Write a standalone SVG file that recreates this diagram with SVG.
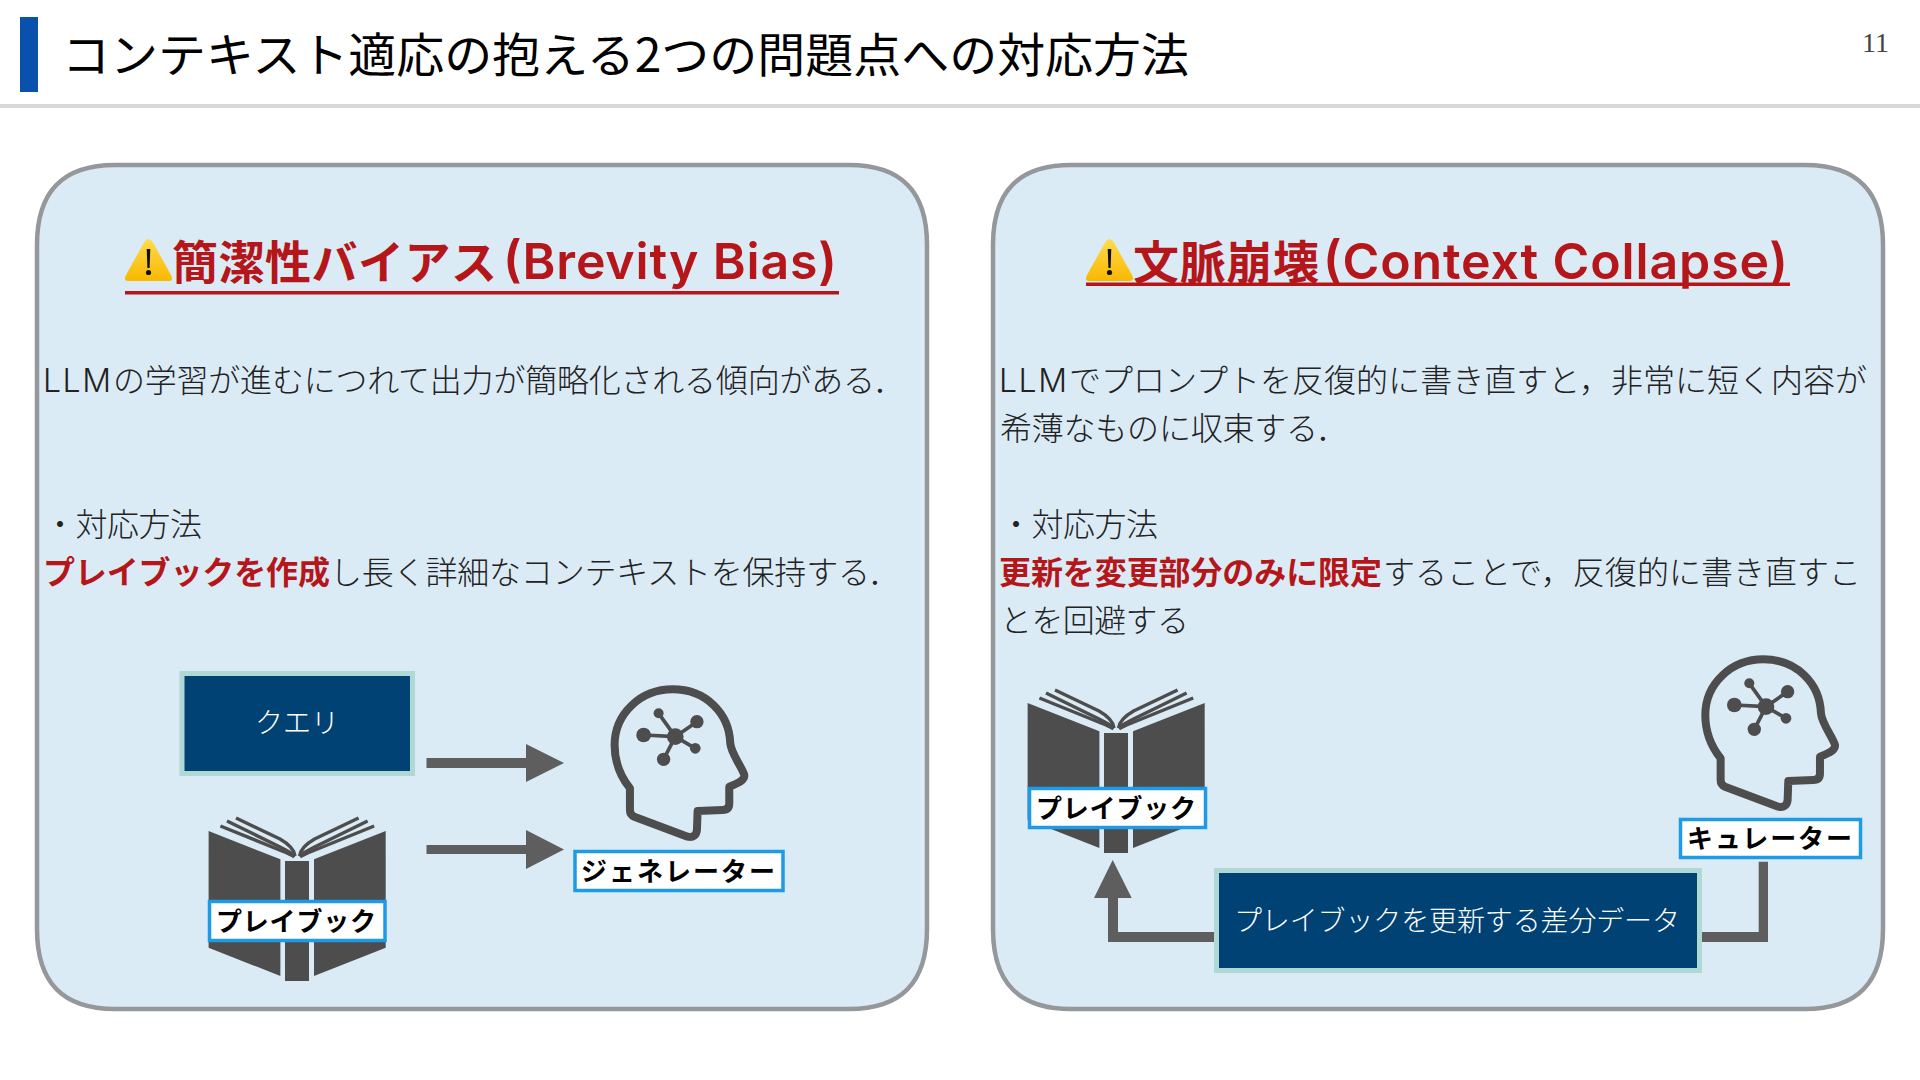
<svg xmlns="http://www.w3.org/2000/svg" width="1920" height="1080" viewBox="0 0 1920 1080">
<style>
text{font-family:"Liberation Sans","Noto Sans CJK JP",sans-serif}
.jp{font-family:"Noto Sans CJK JP",sans-serif}
.lt{font-family:"Inter","Liberation Sans",sans-serif;font-weight:300}
.title{font-size:47px;fill:#000}
.panel{fill:#dbebf6;stroke:#94989b;stroke-width:4.500}
.head{font-weight:700;fill:#b5161a}
.hj{font-size:46px}
.hl{font-family:"Inter","Liberation Sans",sans-serif;font-size:50px;font-weight:600}
.body{font-size:32px;fill:#222;font-weight:300}
.red{font-weight:700;fill:#b5161a}
.box{fill:#004274;stroke:#b0d8d4;stroke-width:5}
.boxt{font-size:28px;fill:#fff;font-weight:300}
.lab{fill:#fff;stroke:#1d9be6;stroke-width:3.500}
.labt{font-size:26px;font-weight:700;fill:#000}
.ink{fill:#4d4d4d}
.pg{fill:none;stroke:#4d4d4d;stroke-width:3.400}
.conn{fill:#5e5e5e}
</style>
<defs>
<linearGradient id="warn" x1="0" y1="0" x2="0" y2="1"><stop offset="0" stop-color="#ffdb4d"/><stop offset="1" stop-color="#f9b800"/></linearGradient>
<path id="panelShape" class="panel" d="M115 165H849C902 165 927 192 927 245V929C927 982 902 1009 849 1009H115C62 1009 37 982 37 929V245C37 192 62 165 115 165Z"/>
<g id="warnIcon">
<path d="M23.500 0Q26 0 28 3.500L46 36Q49 42 43.500 42L3.500 42Q-2 42 1 36L19 3.500Q21 0 23.500 0Z" fill="url(#warn)"/>
<path d="M21.700 10H25.300L24.600 29H22.400Z" fill="#111"/><circle cx="23.500" cy="33.500" r="2.600" fill="#111"/>
</g>
<g id="book">
<path class="ink" d="M208.600 831L280.400 859.300V976L208.600 947.700Z"/>
<path class="ink" d="M385.700 831L314 859.300V976L385.700 947.700Z"/>
<rect class="ink" x="285" y="861" width="24" height="120"/>
<path class="pg" d="M220.400 826L282 851Q292 855 294.500 857"/>
<path class="pg" d="M227 821L280 847Q292 853 295 856"/>
<path class="pg" d="M236 818L280 839Q294 847 295 856"/>
<path class="pg" d="M374.200 826L312.600 851Q302.600 855 300.100 857"/>
<path class="pg" d="M367.600 821L314.600 847Q302.600 853 299.600 856"/>
<path class="pg" d="M358.600 818L314.600 839Q300.600 847 299.600 856"/>
</g>
<g id="brain">
<path d="M692 355C660 315 646 275 646 225C646 130 725 58 820 58C920 58 990 130 993 220C995 250 1030 295 1035 315C1037 330 1020 338 990 350L990 400Q990 420 970 420L895 423L893 480Q890 505 865 500L705 440Q692 435 692 420Z" fill="none" stroke="#4d4d4d" stroke-width="24" stroke-linejoin="round"/>
<g stroke="#4d4d4d" stroke-width="11"><path d="M828 200L778 130M828 200L893 155M828 200L733 195M828 200L888 235M828 200L793 268"/></g>
<g class="ink"><circle cx="828" cy="200" r="25"/><circle cx="778" cy="130" r="15"/><circle cx="893" cy="155" r="20"/><circle cx="733" cy="195" r="22"/><circle cx="888" cy="235" r="16"/><circle cx="793" cy="268" r="20"/></g>
</g>
</defs>
<rect width="1920" height="1080" fill="#fff"/>
<g id="header">
<rect x="20" y="17" width="18" height="75" fill="#0a50ad"/>
<rect x="0" y="104" width="1920" height="4" fill="#d9d9d9"/>
<text class="title jp" x="62" y="72" textLength="1127" lengthAdjust="spacingAndGlyphs">コンテキスト適応の抱える2つの問題点への対応方法</text>
<text x="1862" y="52" font-size="28" fill="#444" style="font-family:'Liberation Serif',serif" textLength="27">11</text>
</g>
<g id="panel-left">
<use href="#panelShape"/>
<use href="#warnIcon" x="125" y="239"/>
<text class="head hj jp" x="172" y="279" textLength="325">簡潔性バイアス</text>
<text class="head hl" x="503" y="279" textLength="334">(Brevity Bias)</text>
<rect x="125" y="291" width="714" height="3.500" fill="#b5161a"/>
<text class="body lt" x="43" y="392" font-size="32" textLength="68">LLM</text>
<text class="body jp" x="113" y="392" textLength="762">の学習が進むにつれて出力が簡略化される傾向がある</text>
<text class="body jp" x="873" y="392">．</text>
<text class="body jp" x="44" y="536" textLength="158">・対応方法</text>
<text class="body jp red" x="43" y="584" textLength="287">プレイブックを作成</text>
<text class="body jp" x="330" y="584" textLength="540">し長く詳細なコンテキストを保持する</text>
<text class="body jp" x="868" y="584">．</text>
</g>
<g id="panel-right">
<use href="#panelShape" x="956"/>
<use href="#warnIcon" x="1086" y="239"/>
<text class="head hj jp" x="1133" y="279" textLength="186">文脈崩壊</text>
<text class="head hl" x="1323" y="279" textLength="465">(Context Collapse)</text>
<rect x="1086" y="282.500" width="704" height="3.500" fill="#b5161a"/>
<text class="body lt" x="999" y="392" font-size="32" textLength="68">LLM</text>
<text class="body jp" x="1069" y="392" textLength="798">でプロンプトを反復的に書き直すと，非常に短く内容が</text>
<text class="body jp" x="1000" y="440" textLength="318">希薄なものに収束する</text>
<text class="body jp" x="1316" y="440">．</text>
<text class="body jp" x="1000" y="536" textLength="158">・対応方法</text>
<text class="body jp red" x="999" y="584" textLength="383">更新を変更部分のみに限定</text>
<text class="body jp" x="1383" y="584" textLength="478">することで，反復的に書き直すこ</text>
<text class="body jp" x="1000" y="632" textLength="189">とを回避する</text>
</g>
<g id="connectors">
<path class="conn" d="M426.500 758H526V744L564 763L526 782V768H426.500Z"/>
<path class="conn" d="M426.500 845H526V830L564 849.500L526 869V854H426.500Z"/>
<path class="conn" d="M1214 932H1118V898H1131.700L1112.700 860L1094 898H1108V942H1214Z"/>
<path class="conn" d="M1702 932H1758.700V861.700H1768V942H1702Z"/>
</g>
<g id="node-query">
<rect class="box" x="182" y="673.500" width="230.500" height="100"/>
<text class="boxt jp" x="297" y="733" text-anchor="middle">クエリ</text>
</g>
<g id="node-playbook-left">
<use href="#book"/>
<rect class="lab" x="209.500" y="901.500" width="175.500" height="39"/>
<text class="labt jp" x="216" y="931" textLength="160">プレイブック</text>
</g>
<g id="node-generator">
<use href="#brain" transform="translate(399.300 670) scale(.3333)"/>
<rect class="lab" x="575" y="851.500" width="208" height="39"/>
<text class="labt jp" x="581" y="881" textLength="194">ジェネレーター</text>
</g>
<g id="node-playbook-right">
<use href="#book" x="819" y="-128"/>
<rect class="lab" x="1029.500" y="788.500" width="176" height="39"/>
<text class="labt jp" x="1036" y="818" textLength="160">プレイブック</text>
</g>
<g id="node-curator">
<use href="#brain" transform="translate(1490 640) scale(.3333)"/>
<rect class="lab" x="1680.500" y="819.500" width="180" height="38"/>
<text class="labt jp" x="1687" y="848" textLength="165">キュレーター</text>
</g>
<g id="node-diff">
<rect class="box" x="1216.500" y="870.500" width="483" height="100"/>
<text class="boxt jp" x="1234" y="931" textLength="446">プレイブックを更新する差分データ</text>
</g>
</svg>
